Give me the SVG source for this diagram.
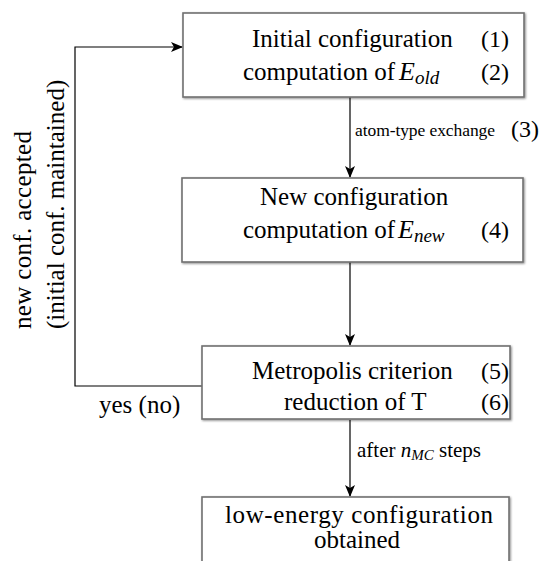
<svg xmlns="http://www.w3.org/2000/svg" width="545" height="561" viewBox="0 0 545 561">
<defs>
<marker id="ah" viewBox="0 0 12 10" refX="11" refY="5" markerWidth="12" markerHeight="10" markerUnits="userSpaceOnUse" orient="auto">
<path d="M0,0 L12,5 L0,10 L3,5 Z" fill="#000"/>
</marker>
<filter id="sh" x="-5%" y="-5%" width="110%" height="115%">
<feGaussianBlur in="SourceAlpha" stdDeviation="1"/>
<feOffset dx="0.5" dy="1" result="b"/>
<feComponentTransfer><feFuncA type="linear" slope="0.45"/></feComponentTransfer>
<feMerge><feMergeNode/><feMergeNode in="SourceGraphic"/></feMerge>
</filter>
</defs>
<style>
.box{fill:#fff;stroke:#707070;stroke-width:1.6;filter:url(#sh)}
.t{font-family:"Liberation Serif",serif;font-size:25px;fill:#000}
.n{font-family:"Liberation Serif",serif;font-size:24px;fill:#000}
.m{font-family:"Liberation Serif",serif;font-style:italic;fill:#000}
.s{font-family:"Liberation Serif",serif;font-size:17.5px;fill:#000}
.a{font-family:"Liberation Serif",serif;font-size:21px;fill:#000}
.c{fill:none;stroke:#000;stroke-width:1.2}
</style>
<g id="connectors">
<line class="c" x1="350" y1="97" x2="350" y2="177" marker-end="url(#ah)"/>
<line class="c" x1="350" y1="262" x2="350" y2="345" marker-end="url(#ah)"/>
<line class="c" x1="350" y1="420" x2="350" y2="496" marker-end="url(#ah)"/>
<polyline class="c" points="202,386 75,386 75,47 182,47" marker-end="url(#ah)"/>
<text class="s" x="355" y="136" textLength="140">atom-type exchange</text>
<text class="n" x="511" y="137">(3)</text>
<text class="a" x="357" y="457">after <tspan class="m" font-size="21">n</tspan><tspan class="m" font-size="15" dy="3">MC</tspan><tspan dy="-3"> steps</tspan></text>
<text class="t" x="99" y="413">yes (no)</text>
<text class="t" transform="translate(31,329) rotate(-90)" textLength="198">new conf. accepted</text>
<text class="t" transform="translate(64,329) rotate(-90)">(initial conf. maintained)</text>
</g>
<g id="node1">
<rect class="box" x="183" y="13" width="341" height="84"/>
<text class="t" x="252" y="47">Initial configuration</text>
<text class="n" x="481" y="47">(1)</text>
<text class="t" x="243" y="80">computation of</text>
<text class="m" x="399" y="80" font-size="26">E<tspan font-size="19" dy="4">old</tspan></text>
<text class="n" x="481" y="80">(2)</text>
</g>
<g id="node2">
<rect class="box" x="182" y="178" width="341" height="84"/>
<text class="t" x="260" y="205">New configuration</text>
<text class="t" x="243" y="238">computation of</text>
<text class="m" x="398" y="238" font-size="26">E<tspan font-size="19" dy="4">new</tspan></text>
<text class="n" x="481" y="238">(4)</text>
</g>
<g id="node3">
<rect class="box" x="202" y="346" width="308" height="73"/>
<text class="t" x="252" y="379">Metropolis criterion</text>
<text class="n" x="481" y="379">(5)</text>
<text class="t" x="284" y="410">reduction of T</text>
<text class="n" x="481" y="410">(6)</text>
</g>
<g id="node4">
<rect class="box" x="202" y="497" width="307" height="80"/>
<text class="t" x="225" y="523" textLength="268">low-energy configuration</text>
<text class="t" x="357" y="548" text-anchor="middle">obtained</text>
</g>
</svg>
